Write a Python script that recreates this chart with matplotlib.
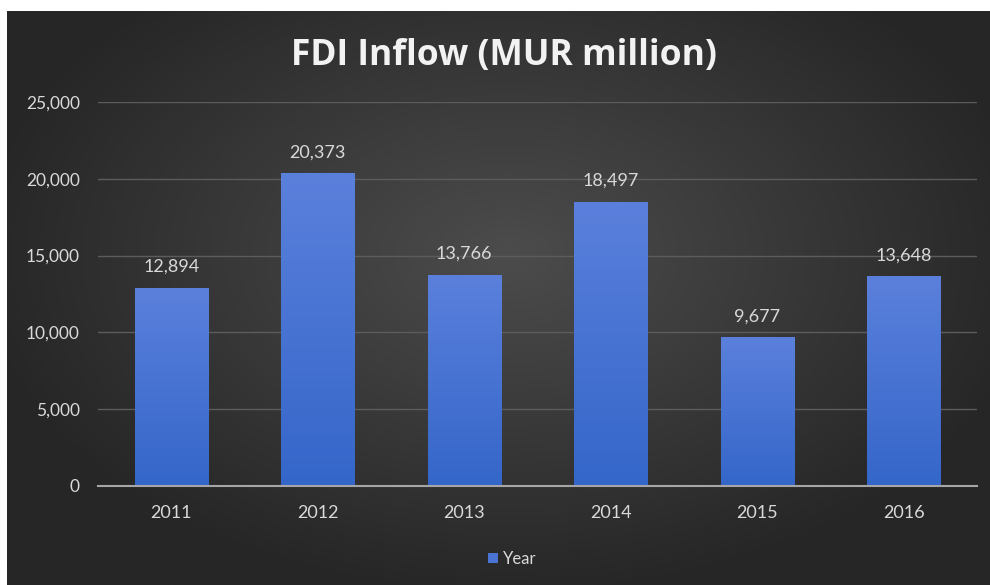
import numpy as np
from matplotlib import pyplot as plt
from matplotlib.colors import LinearSegmentedColormap
from matplotlib.patches import Patch

years = ['2011', '2012', '2013', '2014', '2015', '2016']
fdi_inflow = [12894, 20373, 13766, 18497, 9677, 13648]
y_ticks = [0, 5000, 10000, 15000, 20000, 25000]

plt.rcParams['font.family'] = ['Lato', 'DejaVu Sans']
text_col = '#d9d9d9'

fig = plt.figure(figsize=(9.9, 5.85), dpi=100, facecolor='white')

# tlo z gradientem radialnym
bg = fig.add_axes([7 / 990, 0, 983 / 990, 574 / 585])
bg.set_axis_off()
gx, gy = np.meshgrid(np.linspace(-1, 1, 400), np.linspace(-1, 1, 240))
r = np.sqrt(((gx - 0.02) / 1.1) ** 2 + ((gy + 0.15) / 1.2) ** 2)
bg_cmap = LinearSegmentedColormap.from_list('bg', ['#4c4c4c', '#262626'])
bg.imshow(np.clip(r, 0, 1), cmap=bg_cmap, aspect='auto', extent=[0, 1, 0, 1], vmin=0, vmax=1)
bg.set_xlim(0, 1)
bg.set_ylim(0, 1)

ax = fig.add_axes([98 / 990, 99 / 585, 879 / 990, 384 / 585])
ax.patch.set_alpha(0)

x = np.arange(len(years))
bars = ax.bar(x, fdi_inflow, width=0.5, color='#4a74d4', zorder=3)

bar_cmap = LinearSegmentedColormap.from_list('bar', ['#3466c9', '#5b80dc'])
grad = np.linspace(0, 1, 256).reshape(-1, 1)
for b in bars:
    x0, w, h = b.get_x(), b.get_width(), b.get_height()
    im = ax.imshow(grad, cmap=bar_cmap, aspect='auto', origin='lower',
                   extent=[x0, x0 + w, 0, h], zorder=4)
    im.set_clip_path(b)

for xi, v in zip(x, fdi_inflow):
    ax.annotate(f'{v:,}', (xi, v), xytext=(0, 15), textcoords='offset points',
                ha='center', va='center', color=text_col, fontsize=13, zorder=5)

ax.set_xlim(-0.5, len(years) - 0.5)
ax.set_ylim(0, 25000)
ax.set_yticks(y_ticks)
ax.set_yticklabels([f'{t:,}' for t in y_ticks])
ax.set_xticks(x)
ax.set_xticklabels(years)
ax.tick_params(axis='both', length=0, colors=text_col)
ax.tick_params(axis='y', pad=13, labelsize=12.5)
ax.tick_params(axis='x', pad=14, labelsize=13)

ax.grid(axis='y', color='#5c5c5c', linewidth=1, zorder=1)
for s in ['top', 'right', 'left']:
    ax.spines[s].set_visible(False)
ax.spines['bottom'].set_color('#a6a6a6')
ax.spines['bottom'].set_linewidth(1.5)
ax.spines['bottom'].set_zorder(6)

fig.text(504 / 990, 1 - 56 / 585, 'FDI Inflow (MUR million)', ha='center', va='center',
         fontsize=25.5, fontweight='bold', color='#f2f2f2', family=['Open Sans', 'DejaVu Sans'])

fig.legend(handles=[Patch(facecolor='#4a74d4')], labels=['Year'], loc='center',
           bbox_to_anchor=(512 / 990, 1 - 559 / 585), frameon=False, fontsize=12,
           labelcolor=text_col, handlelength=0.6, handleheight=0.6, handletextpad=0.3)

plt.savefig('out.png', dpi=100, facecolor='white')
